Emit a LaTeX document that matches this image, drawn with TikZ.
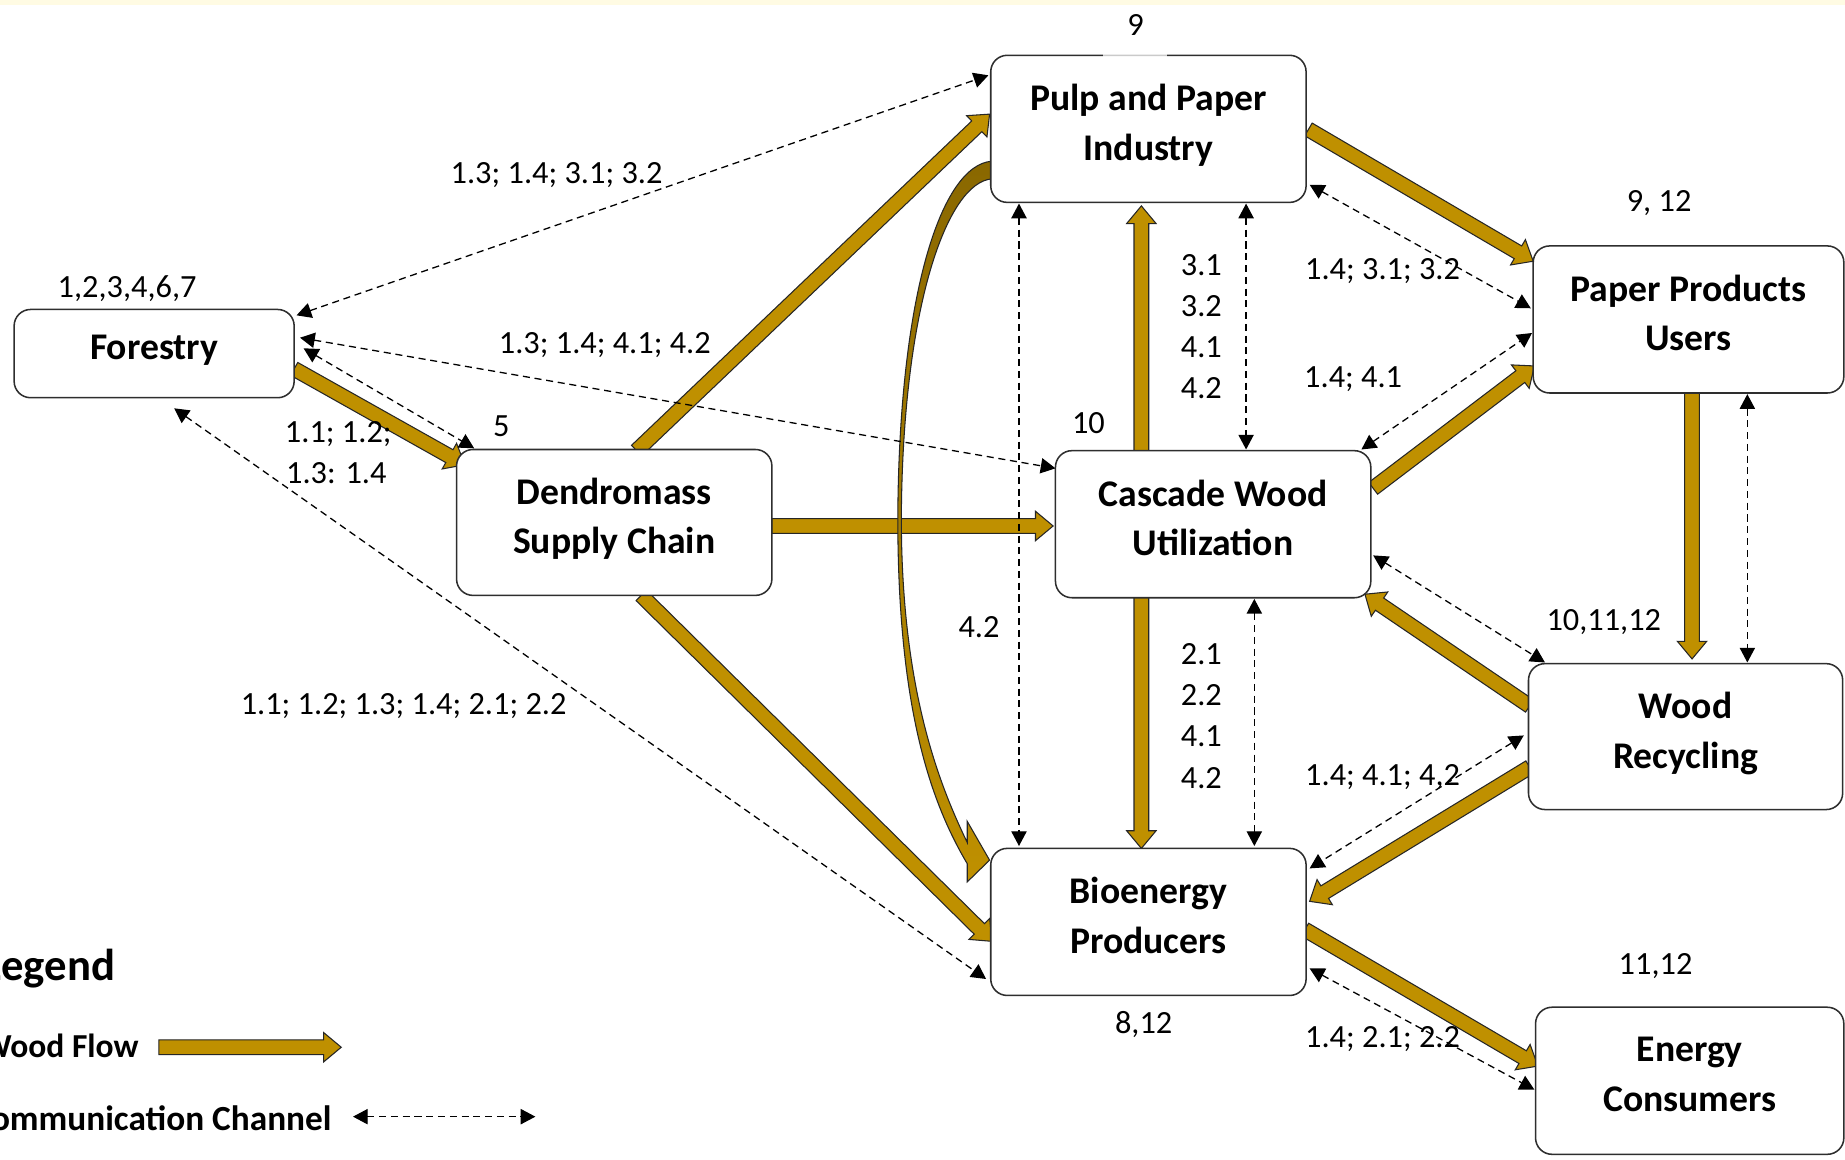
\documentclass[tikz,border=0pt]{standalone}
\usepackage{fontspec}
\setmainfont{Carlito}
\usetikzlibrary{arrows.meta,calc}
\pgfdeclarelayer{background}
\pgfsetlayers{background,main}
\definecolor{woodgold}{HTML}{BF9000}
\definecolor{boxline}{HTML}{2E2E2E}
\definecolor{topstrip}{HTML}{FFFBE3}
\newcommand\lowstrut{\rule[-11pt]{0pt}{11pt}}
\newcommand\woodarrow[2]{%
  \coordinate (wah) at ($(#2)!15pt!(#1)$);
  \filldraw[woodflow]
    ($(#1)!6.25pt!90:(#2)$) --
    ($(wah)!6.25pt!90:(#2)$) --
    ($(wah)!12.5pt!90:(#2)$) --
    (#2) --
    ($(wah)!12.5pt!-90:(#2)$) --
    ($(wah)!6.25pt!-90:(#2)$) --
    ($(#1)!6.25pt!-90:(#2)$) -- cycle;}
\begin{document}
\begin{tikzpicture}[x=1pt,y=-1pt,
  box/.style={draw=boxline, line width=1.3pt, fill=white, rounded corners=14pt,
    align=center, inner sep=0pt, outer sep=0pt,
    font=\fontsize{32}{42}\selectfont\bfseries},
  lbl/.style={inner sep=0pt, font=\fontsize{27.5}{35}\selectfont},
  legfont/.style={inner sep=0pt, font=\fontsize{28.5}{32}\selectfont\bfseries},
  woodflow/.style={fill=woodgold, draw=black!85, line width=0.9pt, line join=miter},
  comm/.style={draw=black, line width=1.1pt, dash pattern=on 6pt off 4pt,
    arrows={Triangle[length=12.5pt,width=13pt]-Triangle[length=12.5pt,width=13pt]}},
  curvearrow/.style={draw=black!85, line width=0.9pt, top color=woodgold!72!black, bottom color=woodgold}
]
\useasboundingbox (0,0) rectangle (1568,985);

% ---------- nodes ----------
\node[box, minimum width=238pt, minimum height=75pt] (forestry) at (131,300.5) {Forestry\lowstrut};
\node[box, minimum width=268pt, minimum height=124pt] (dend) at (522,444) {Dendromass\\Supply Chain\lowstrut};
\node[box, minimum width=268pt, minimum height=125pt] (pulp) at (976,109.5) {Pulp and Paper\\Industry\lowstrut};
\node[box, minimum width=268pt, minimum height=125pt] (cascade) at (1031,445.5) {Cascade Wood\\Utilization\lowstrut};
\node[box, minimum width=268pt, minimum height=125pt] (bio) at (976,783.5) {Bioenergy\\Producers\lowstrut};
\node[box, minimum width=264pt, minimum height=125pt] (paper) at (1435,271.5) {Paper Products\\Users\lowstrut};
\node[box, minimum width=267pt, minimum height=124pt] (wood) at (1432.5,626) {Wood\\Recycling\lowstrut};
\node[box, minimum width=262pt, minimum height=125pt] (energy) at (1436,918.5) {Energy\\Consumers\lowstrut};

% ---------- wood flows (behind boxes) ----------
\begin{pgfonlayer}{background}
\fill[white] (0,0) rectangle (1568,985);
\fill[topstrip] (0,0) rectangle (1568,4);

\coordinate (w1s) at ($(forestry.east)+(0,13)$);
\coordinate (w1t) at ($(dend.north west)+(7,13)$);
\woodarrow{w1s}{w1t}
\coordinate (w2s) at ($(dend.north)+(19,1)$);
\coordinate (w2t) at ($(pulp.west)+(-1,-12.5)$);
\woodarrow{w2s}{w2t}
\coordinate (w3s) at ($(dend.east)+(0,3)$);
\coordinate (w3t) at ($(cascade.west)+(-2,1.5)$);
\woodarrow{w3s}{w3t}
\coordinate (w4s) at ($(dend.south)+(23,0)$);
\coordinate (w4t) at ($(bio.west)+(1,16.5)$);
\woodarrow{w4s}{w4t}
\coordinate (w5s) at ($(cascade.north)+(-61,1)$);
\coordinate (w5t) at ($(pulp.south)+(-6,3)$);
\woodarrow{w5s}{w5t}
\coordinate (w6s) at ($(pulp.east)+(2,0.5)$);
\coordinate (w6t) at ($(paper.north west)+(0,13)$);
\woodarrow{w6s}{w6t}
\coordinate (w7s) at ($(cascade.east)+(2,-30.5)$);
\coordinate (w7t) at ($(paper.west)+(1,39.5)$);
\woodarrow{w7s}{w7t}
\coordinate (w8s) at ($(cascade.south)+(-61,-1)$);
\coordinate (w8t) at ($(bio.north)+(-6,0)$);
\woodarrow{w8s}{w8t}
\coordinate (w9s) at ($(paper.south)+(3,-1)$);
\coordinate (w9t) at ($(wood.north)+(5.5,-4)$);
\woodarrow{w9s}{w9t}
\coordinate (w10s) at ($(wood.west)+(1,-26)$);
\coordinate (w10t) at ($(cascade.south east)+(-5,-3)$);
\woodarrow{w10s}{w10t}
\coordinate (w11s) at ($(wood.west)+(1,26)$);
\coordinate (w11t) at ($(bio.east)+(3,-17.5)$);
\woodarrow{w11s}{w11t}
\coordinate (w12s) at ($(bio.east)+(-1,6.5)$);
\coordinate (w12t) at ($(energy.west)+(2,-12.5)$);
\woodarrow{w12s}{w12t}

% curved flow pulp -> bioenergy
\coordinate (co) at ($(pulp.west)+(1,27.5)$);
\coordinate (ci) at ($(pulp.west)+(1,42.5)$);
\coordinate (coe) at ($(bio.west)+(-20,-49.5)$);
\coordinate (cie) at ($(bio.west)+(-20,-67.5)$);
\coordinate (cb1) at ($(bio.west)+(-20,-85.5)$);
\coordinate (cb2) at ($(bio.west)+(-20,-34)$);
\coordinate (ctip) at ($(bio.west)+(-1,-52.5)$);
\path[curvearrow] (co) .. controls (800,140) and (764,250) .. (763,440)
  .. controls (763,600) and (790,680) .. (coe) -- (cb2) -- (ctip) -- (cb1) -- (cie)
  .. controls (800,670) and (766,590) .. (766,440)
  .. controls (767,260) and (805,155) .. (ci) -- cycle;
\end{pgfonlayer}

% gap in the top border of the pulp box
\fill[white, opacity=0.75] (937,45) rectangle (992,49);

% ---------- communication channels ----------
\coordinate (d1a) at ($(forestry.north east)+(2,5)$);
\coordinate (d1b) at ($(pulp.north west)+(-2,17)$);
\draw[comm] (d1a) -- (d1b);
\coordinate (d2a) at ($(forestry.east)+(5,-13.5)$);
\coordinate (d2b) at ($(cascade.west)+(0,-47.5)$);
\draw[comm] (d2a) -- (d2b);
\coordinate (d3a) at ($(forestry.east)+(8,-4.5)$);
\coordinate (d3b) at ($(dend.north west)+(15,-1)$);
\draw[comm] (d3a) -- (d3b);
\coordinate (d4a) at ($(forestry.south)+(17,9)$);
\coordinate (d4b) at ($(bio.west)+(-4,48.5)$);
\draw[comm] (d4a) -- (d4b);
\coordinate (d5a) at ($(pulp.south)+(-110,1)$);
\coordinate (d5b) at ($(bio.north)+(-110,-2)$);
\draw[comm] (d5a) -- (d5b);
\coordinate (d6a) at ($(pulp.south)+(83,1)$);
\coordinate (d6b) at ($(cascade.north)+(28,-1)$);
\draw[comm] (d6a) -- (d6b);
\coordinate (d7a) at ($(pulp.south east)+(3,-15)$);
\coordinate (d7b) at ($(paper.west)+(-2,-9.5)$);
\draw[comm] (d7a) -- (d7b);
\coordinate (d8a) at ($(cascade.north east)+(-8,-1)$);
\coordinate (d8b) at ($(paper.west)+(-1,11.5)$);
\draw[comm] (d8a) -- (d8b);
\coordinate (d9a) at ($(paper.south)+(50,1)$);
\coordinate (d9b) at ($(wood.north)+(52.5,-1)$);
\draw[comm] (d9a) -- (d9b);
\coordinate (d10a) at ($(cascade.east)+(2,26.5)$);
\coordinate (d10b) at ($(wood.north west)+(14,-1)$);
\draw[comm] (d10a) -- (d10b);
\coordinate (d11a) at ($(cascade.south)+(35,1)$);
\coordinate (d11b) at ($(bio.north)+(90,-2)$);
\draw[comm] (d11a) -- (d11b);
\coordinate (d12a) at ($(wood.west)+(-4,-1)$);
\coordinate (d12b) at ($(bio.north east)+(3,17)$);
\draw[comm] (d12a) -- (d12b);
\coordinate (d13a) at ($(bio.east)+(3,39.5)$);
\coordinate (d13b) at ($(energy.west)+(-1,7.5)$);
\draw[comm] (d13a) -- (d13b);

% ---------- numbers ----------
\node[lbl] (n9) at (965,21) {9};
\node[lbl] (nfor) at (108,245) {1,2,3,4,6,7};
\node[lbl] (n5) at (426,362) {5};
\node[lbl] (n10) at (925,360) {10};
\node[lbl] (n912) at (1410,173) {9, 12};
\node[lbl] (n101112) at (1363,529) {10,11,12};
\node[lbl] (n812) at (972,871) {8,12};
\node[lbl] (n1112) at (1407,821) {11,12};

\node[lbl] (l1) at (473,149) {1.3; 1.4; 3.1; 3.2};
\node[lbl] (l2) at (514,293) {1.3; 1.4; 4.1; 4.2};
\node[lbl, anchor=west] (l3a) at (242,369) {1.1; 1.2;};
\node[lbl, anchor=west] (l3b) at (243,402) {1.3: 1.4};
\node[lbl] (l4) at (343,600) {1.1; 1.2; 1.3; 1.4; 2.1; 2.2};
\node[lbl] (l5) at (832,533) {4.2};
\node[lbl, align=center] (l6) at (1021,277.5) {3.1\\3.2\\4.1\\4.2};
\node[lbl] (l7) at (1175,230) {1.4; 3.1; 3.2};
\node[lbl] (l8) at (1150,322) {1.4; 4.1};
\node[lbl, align=center] (l9) at (1021,608.5) {2.1\\2.2\\4.1\\4.2};
\node[lbl] (l10) at (1175,660) {1.4; 4.1; 4,2};
\node[lbl] (l11) at (1175,883) {1.4; 2.1; 2.2};

% ---------- legend ----------
\node[anchor=base east, inner sep=0pt, font=\fontsize{38}{40}\selectfont\bfseries] (legtitle) at (98,833) {Legend};
\node[legfont, anchor=base east] (legwood) at (118,899) {Wood Flow};
\coordinate (lw1) at (135,890);
\coordinate (lw2) at (290,890);
\woodarrow{lw1}{lw2}
\node[inner sep=0pt, font=\fontsize{30}{32}\selectfont\bfseries, anchor=base east] (legcomm) at (282,961) {Communication Channel};
\coordinate (lc1) at (300,949);
\coordinate (lc2) at (455,949);
\draw[comm] (lc1) -- (lc2);
\end{tikzpicture}
\end{document}
